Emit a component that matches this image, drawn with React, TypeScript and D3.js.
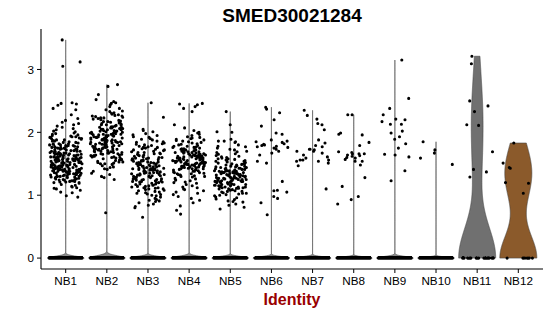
import React, { useMemo } from "react";
import * as d3 from "d3";

const categories = ["NB1", "NB2", "NB3", "NB4", "NB5", "NB6", "NB7", "NB8", "NB9", "NB10", "NB11", "NB12"];
const yTicks = [0, 1, 2, 3];
const chartTitle = "SMED30021284";
const xTitle = "Identity";

// number of cells with zero expression per identity
const zeroCounts = [14000, 10000, 10000, 10000, 10000, 5000, 5000, 5000, 4000, 2000, 20, 8];

const nb1 = [3.47,3.12,3.05,2.47,2.46,2.45,2.43,2.38,2.36,2.28,2.22,2.19,2.16,2.14,2.12,2.10,2.08,2.06,2.04,2.02,2.01,
1.99,1.98,1.97,1.96,1.95,1.94,1.93,1.93,1.92,1.91,1.90,1.90,
1.89,1.88,1.88,1.87,1.86,1.86,1.85,1.84,1.84,1.83,1.82,1.82,1.81,1.81,1.80,1.80,
1.79,1.79,1.78,1.78,1.77,1.77,1.76,1.76,1.75,1.75,1.74,1.74,1.73,1.73,1.72,1.72,1.71,1.71,1.70,1.70,1.70,1.79,1.76,1.73,
1.69,1.69,1.68,1.68,1.68,1.67,1.67,1.66,1.66,1.66,1.65,1.65,1.65,1.64,1.64,1.64,1.63,1.63,1.63,1.62,1.62,1.62,1.61,1.61,1.61,1.60,1.60,1.60,1.67,1.63,
1.59,1.59,1.59,1.58,1.58,1.58,1.57,1.57,1.57,1.56,1.56,1.56,1.55,1.55,1.55,1.54,1.54,1.54,1.53,1.53,1.53,1.52,1.52,1.52,1.51,1.51,1.51,1.50,1.50,1.50,1.58,1.55,1.52,1.57,1.54,1.51,
1.49,1.49,1.49,1.48,1.48,1.48,1.47,1.47,1.47,1.46,1.46,1.46,1.45,1.45,1.45,1.44,1.44,1.44,1.43,1.43,1.43,1.42,1.42,1.42,1.41,1.41,1.41,1.40,1.40,1.40,1.48,1.45,1.42,1.47,1.44,1.41,
1.39,1.39,1.39,1.38,1.38,1.38,1.37,1.37,1.37,1.36,1.36,1.36,1.35,1.35,1.35,1.34,1.34,1.34,1.33,1.33,1.33,1.32,1.32,1.32,1.31,1.31,1.31,1.30,1.30,1.30,
1.29,1.29,1.28,1.28,1.27,1.27,1.26,1.26,1.25,1.25,1.24,1.24,1.23,1.23,1.22,1.22,1.21,1.21,1.20,1.20,
1.19,1.17,1.16,1.14,1.13,1.12,1.11,1.10,
1.08,1.05,1.04,0.99,0.97];

const nb2 = [2.76,2.73,2.60,2.52,2.49,2.47,2.46,2.44,2.41,2.38,2.36,2.34,2.33,2.31,2.30,
2.29,2.28,2.27,2.26,2.25,2.24,2.23,2.22,2.21,2.20,2.26,2.23,
2.19,2.18,2.17,2.16,2.15,2.14,2.13,2.12,2.11,2.10,2.17,2.14,2.12,2.11,
2.09,2.09,2.08,2.08,2.07,2.07,2.06,2.06,2.05,2.05,2.04,2.04,2.03,2.03,2.02,2.02,2.01,2.01,2.00,2.00,
1.99,1.99,1.98,1.98,1.97,1.97,1.96,1.96,1.95,1.95,1.94,1.94,1.93,1.93,1.92,1.92,1.91,1.91,1.90,1.90,1.97,1.95,1.93,1.91,
1.89,1.89,1.88,1.88,1.87,1.87,1.86,1.86,1.85,1.85,1.84,1.84,1.83,1.83,1.82,1.82,1.81,1.81,1.80,1.80,1.88,1.85,1.83,1.81,
1.79,1.79,1.78,1.78,1.77,1.77,1.76,1.76,1.75,1.75,1.74,1.74,1.73,1.73,1.72,1.72,1.71,1.71,1.70,1.70,1.77,1.74,
1.69,1.69,1.68,1.68,1.67,1.67,1.66,1.66,1.65,1.65,1.64,1.64,1.63,1.63,1.62,1.62,1.61,1.61,1.60,1.60,
1.59,1.58,1.56,1.55,1.54,1.53,1.52,1.51,1.50,1.57,1.53,1.50,
1.49,1.47,1.45,1.44,1.42,1.41,
1.38,1.35,1.33,1.30,1.28,1.25,
0.72];

const nb3 = [2.47,2.24,2.05,2.03,2.01,1.98,1.96,1.95,1.93,1.92,1.90,
1.89,1.88,1.86,1.85,1.84,1.83,1.82,1.81,1.80,
1.79,1.78,1.77,1.76,1.75,1.74,1.73,1.72,1.71,1.70,1.76,1.72,
1.69,1.68,1.67,1.66,1.65,1.64,1.63,1.62,1.61,1.60,1.68,1.66,1.64,1.62,1.60,
1.59,1.59,1.58,1.58,1.57,1.57,1.56,1.56,1.55,1.55,1.54,1.54,1.53,1.53,1.52,1.52,1.51,1.51,1.50,1.50,
1.49,1.49,1.48,1.48,1.47,1.47,1.46,1.46,1.45,1.45,1.44,1.44,1.43,1.43,1.42,1.42,1.41,1.41,1.40,1.40,1.47,1.43,
1.39,1.39,1.38,1.38,1.37,1.37,1.36,1.36,1.35,1.35,1.34,1.34,1.33,1.33,1.32,1.32,1.31,1.31,1.30,1.30,1.36,1.33,
1.29,1.29,1.28,1.28,1.27,1.27,1.26,1.26,1.25,1.25,1.24,1.24,1.23,1.23,1.22,1.22,1.21,1.21,1.20,1.20,
1.19,1.18,1.17,1.16,1.15,1.14,1.13,1.12,1.11,1.10,1.18,1.16,1.14,1.12,1.10,
1.09,1.08,1.06,1.05,1.04,1.03,1.02,1.01,1.00,1.07,
0.99,0.97,0.95,0.93,0.92,0.90,0.91,
0.88,0.86,0.84,0.82,0.80,
0.65];

const nb4 = [2.46,2.45,2.44,2.41,2.38,2.33,2.12,2.07,2.03,2.00,
1.99,1.97,1.95,1.93,1.92,1.91,1.90,
1.89,1.88,1.87,1.86,1.85,1.84,1.83,1.82,1.81,1.80,
1.79,1.78,1.77,1.76,1.75,1.74,1.73,1.72,1.71,1.70,1.78,1.76,1.74,1.72,1.70,
1.69,1.69,1.68,1.68,1.67,1.67,1.66,1.66,1.65,1.65,1.64,1.64,1.63,1.63,1.62,1.62,1.61,1.61,1.60,1.60,1.68,1.66,1.64,1.62,1.60,
1.59,1.59,1.59,1.58,1.58,1.58,1.57,1.57,1.57,1.56,1.56,1.56,1.55,1.55,1.55,1.54,1.54,1.54,1.53,1.53,1.53,1.52,1.52,1.52,1.51,1.51,1.51,1.50,1.50,1.50,
1.49,1.49,1.48,1.48,1.47,1.47,1.46,1.46,1.45,1.45,1.44,1.44,1.43,1.43,1.42,1.42,1.41,1.41,1.40,1.40,1.49,1.48,1.47,1.46,1.45,1.44,1.43,1.42,
1.39,1.38,1.37,1.36,1.35,1.34,1.33,1.32,1.31,1.30,1.38,1.36,1.34,1.32,1.30,
1.29,1.27,1.26,1.24,1.23,1.21,1.20,1.25,
1.19,1.17,1.15,1.13,1.12,1.10,
1.09,1.07,1.05,1.03,1.01,
0.98,0.95,0.92,0.88,0.83,0.76,0.70];

const nb5 = [2.33,2.12,2.01,2.00,1.89,1.86,1.86,1.85,1.84,1.80,1.78,
1.77,1.75,1.73,1.72,1.70,
1.69,1.68,1.66,1.65,1.63,1.62,1.61,1.60,
1.59,1.58,1.57,1.56,1.55,1.54,1.53,1.52,1.51,1.50,1.58,1.56,1.54,1.52,1.50,
1.49,1.49,1.48,1.48,1.47,1.47,1.46,1.46,1.45,1.45,1.44,1.44,1.43,1.43,1.42,1.42,1.41,1.41,1.40,1.40,1.47,1.43,
1.39,1.39,1.38,1.38,1.37,1.37,1.36,1.36,1.35,1.35,1.34,1.34,1.33,1.33,1.32,1.32,1.31,1.31,1.30,1.30,1.39,1.38,1.37,1.36,1.35,1.34,1.33,1.32,
1.29,1.29,1.28,1.28,1.27,1.27,1.26,1.26,1.25,1.25,1.24,1.24,1.23,1.23,1.22,1.22,1.21,1.21,1.20,1.20,1.29,1.28,1.27,1.26,1.25,1.24,1.23,1.22,
1.19,1.19,1.18,1.18,1.17,1.17,1.16,1.16,1.15,1.15,1.14,1.14,1.13,1.13,1.12,1.12,1.11,1.11,1.10,1.10,1.17,1.13,
1.09,1.08,1.07,1.06,1.05,1.04,1.03,1.02,1.01,1.00,1.06,1.03,
0.99,0.97,0.96,0.94,0.93,0.91,0.90,
0.89,0.86,0.84,0.81,0.78];

const nb6 = [2.40,2.37,2.31,2.20,2.10,1.99,1.97,1.88,1.86,1.85,1.84,1.82,1.81,1.80,1.79,1.78,1.77,1.76,1.75,1.73,1.70,1.67,1.64,1.54,1.51,1.22,1.08,1.07,1.05,0.98,0.95,0.88,0.69];
const nb7 = [2.35,2.27,2.21,2.14,2.12,2.04,1.88,1.83,1.79,1.77,1.73,1.73,1.72,1.70,1.70,1.67,1.64,1.61,1.59,1.56,1.56,1.56,1.54,1.54,1.51,1.47,1.10];
const nb8 = [2.28,2.28,1.99,1.97,1.96,1.84,1.79,1.69,1.68,1.66,1.66,1.66,1.64,1.63,1.62,1.60,1.59,1.57,1.54,1.54,1.48,1.28,1.14,0.98,0.93,0.86];
const nb9 = [3.15,2.54,2.38,2.28,2.21,2.20,2.17,2.13,2.13,2.02,1.99,1.93,1.89,1.82,1.75,1.65,1.64,1.61,1.39,1.23];
const nb10 = [1.85,1.72,1.67,1.59,1.49];
const nb11 = [3.21,3.09,2.50,2.42,2.33,2.12,2.11,1.69,1.41,1.37,1.29];
const nb12 = [1.83,1.51,1.44,1.43,1.20,1.19,1.03];

const nonzeroValues = [nb1, nb2, nb3, nb4, nb5, nb6, nb7, nb8, nb9, nb10, nb11, nb12];
const violinFills = ["#8a8a8a", "#8a8a8a", "#8a8a8a", "#8a8a8a", "#8a8a8a", "#8a8a8a", "#8a8a8a", "#8a8a8a", "#8a8a8a", "#8a8a8a", "#707070", "#8b5a2b"];

const FONT = "'Liberation Sans', Arial, Helvetica, sans-serif";

function bwNrd0(x: number[]): number {
  const n = x.length;
  const hi = d3.deviation(x) || 0;
  const sorted = x.slice().sort((a, b) => a - b);
  const iqr = (d3.quantileSorted(sorted, 0.75) as number) - (d3.quantileSorted(sorted, 0.25) as number);
  let lo = Math.min(hi, iqr / 1.34);
  if (!lo) lo = hi || Math.abs(sorted[0]) || 1;
  return 0.9 * lo * Math.pow(n, -0.2);
}

function violinDensity(nonzero: number[], zeros: number) {
  const all: number[] = nonzero.slice();
  for (let i = 0; i < zeros; i++) all.push(0);
  const bw = bwNrd0(all);
  const counts = d3.rollup(all, (v) => v.length, (d) => d);
  const uniq = Array.from(counts.entries());
  const lo = d3.min(all) as number;
  const hi = d3.max(all) as number;
  const N = 512;
  const pts: { v: number; d: number }[] = [];
  for (let i = 0; i < N; i++) {
    const v = lo + ((hi - lo) * i) / (N - 1);
    let s = 0;
    for (const [val, c] of uniq) {
      const u = (v - val) / bw;
      s += c * Math.exp(-0.5 * u * u);
    }
    pts.push({ v, d: s });
  }
  const mx = d3.max(pts, (p) => p.d) as number;
  return pts.map((p) => ({ v: p.v, w: p.d / mx }));
}

export default function App() {
  const left = 41, right = 543, top = 29, bottom = 269;
  const x = d3.scalePoint<string>().domain(categories).range([left, right]).padding(0.6);
  const step = x.step();
  const yMax = d3.max(nonzeroValues.flat()) as number;
  const yMin = 0;
  const pad = 0.05 * (yMax - yMin);
  const y = d3.scaleLinear().domain([yMin - pad, yMax + pad]).range([bottom, top]);

  const violins = useMemo(
    () => nonzeroValues.map((vals, i) => violinDensity(vals, zeroCounts[i])),
    []
  );

  // points drawn as zero-length round-capped subpaths (dots)
  const pointPaths = useMemo(() => {
    const rng = d3.randomLcg(0.271828);
    return categories.map((cat, i) => {
      const cx = x(cat) as number;
      const parts: string[] = [];
      const add = (v: number) => {
        const px = cx + (rng() * 0.8 - 0.4) * step;
        const py = y(v);
        parts.push(`M${px.toFixed(1)},${py.toFixed(1)}h0`);
      };
      for (let k = 0; k < zeroCounts[i]; k++) add(0);
      nonzeroValues[i].forEach(add);
      return parts.join("");
    });
  }, []);

  const half = 0.45 * step;

  return (
    <svg width={550} height={316} style={{ position: "absolute", left: 0, top: 0, display: "block", background: "#fff" }}>
      <rect x={0} y={0} width={550} height={316} fill="#fff" />
      <text x={(left + right) / 2} y={22} textAnchor="middle" fontFamily={FONT} fontWeight="bold" fontSize={19} fill="#000">
        {chartTitle}
      </text>
      {categories.map((cat, i) => {
        const cx = x(cat) as number;
        const area = d3
          .area<{ v: number; w: number }>()
          .x0((d) => cx - d.w * half)
          .x1((d) => cx + d.w * half)
          .y((d) => y(d.v));
        return (
          <path key={"v" + cat} d={area(violins[i]) || ""} fill={violinFills[i]} stroke="#444" strokeWidth={0.6} />
        );
      })}
      {pointPaths.map((d, i) => (
        <path key={"p" + i} d={d} fill="none" stroke="#000" strokeWidth={3.1} strokeLinecap="round" />
      ))}
      <line x1={left} x2={left} y1={top} y2={bottom} stroke="#000" strokeWidth={1.1} />
      <line x1={left} x2={right} y1={bottom} y2={bottom} stroke="#000" strokeWidth={1.1} />
      {yTicks.map((t) => (
        <g key={"yt" + t}>
          <line x1={left - 4} x2={left} y1={y(t)} y2={y(t)} stroke="#000" strokeWidth={1} />
          <text x={left - 7} y={y(t) + 4.2} textAnchor="end" fontFamily={FONT} fontSize={11.7} fill="#000">
            {t}
          </text>
        </g>
      ))}
      {categories.map((cat) => (
        <g key={"xt" + cat}>
          <line x1={x(cat)} x2={x(cat)} y1={bottom} y2={bottom + 4} stroke="#000" strokeWidth={1} />
          <text x={x(cat)} y={285} textAnchor="middle" fontFamily={FONT} fontSize={11.7} fill="#000">
            {cat}
          </text>
        </g>
      ))}
      <text x={(left + right) / 2} y={305} textAnchor="middle" fontFamily={FONT} fontWeight="bold" fontSize={16} fill="#990000">
        {xTitle}
      </text>
    </svg>
  );
}
